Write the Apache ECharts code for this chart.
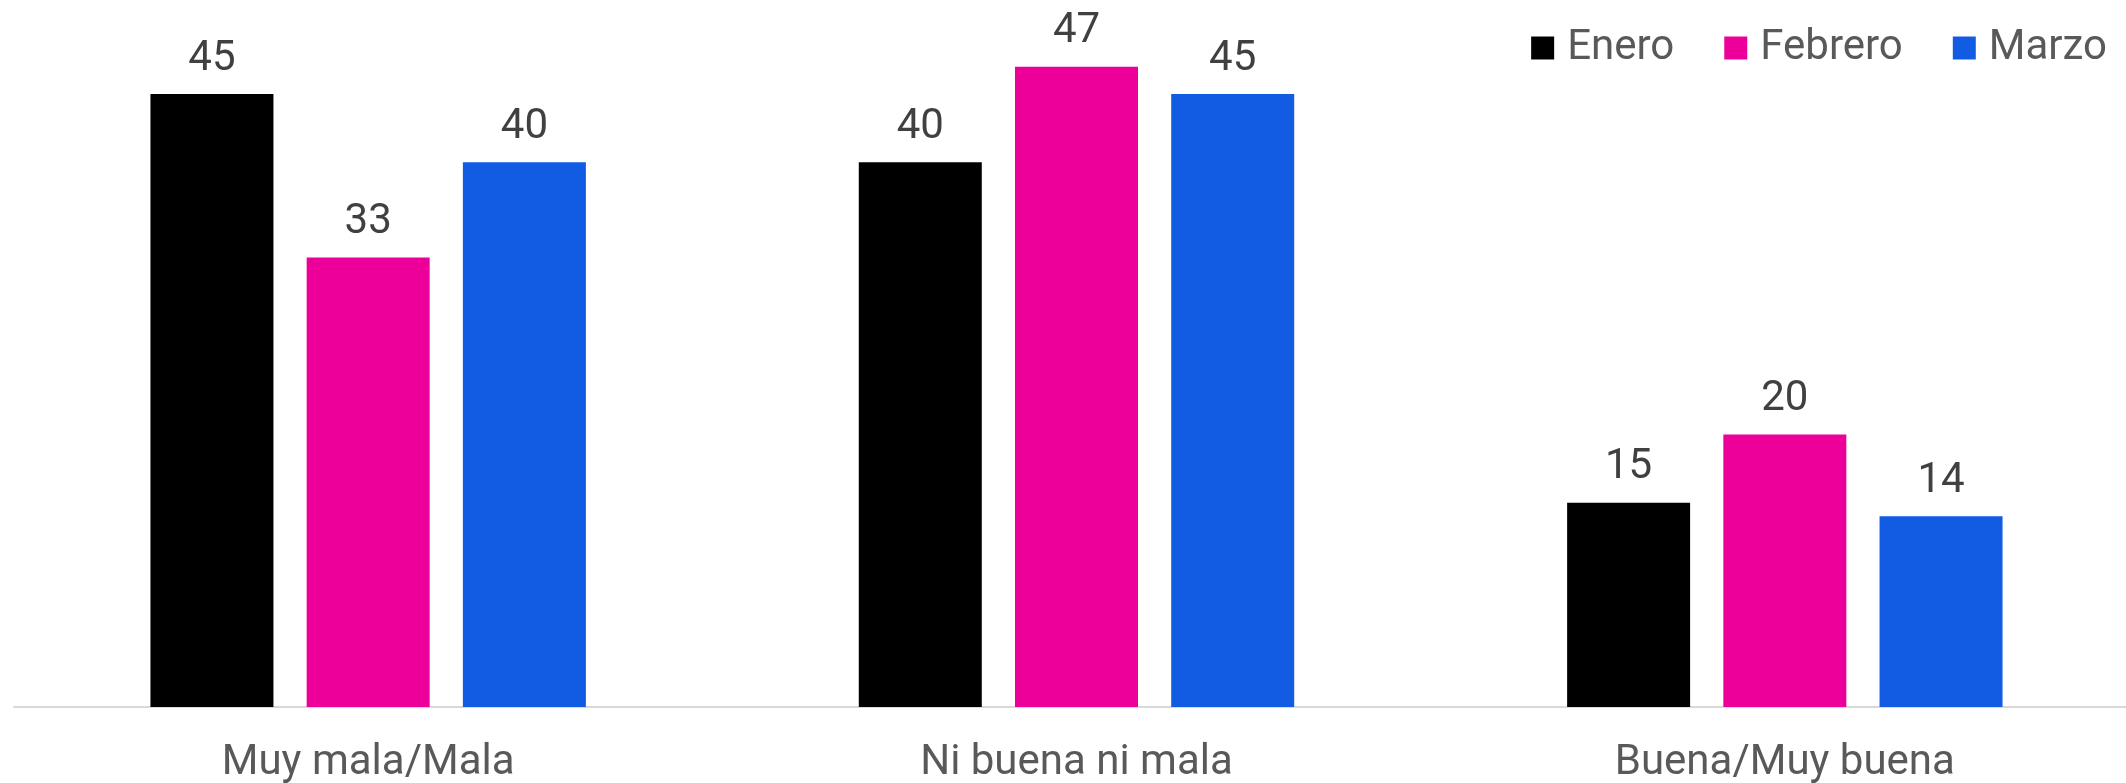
<!DOCTYPE html>
<html>
<head>
<meta charset="utf-8">
<script src="https://cdn.jsdelivr.net/npm/echarts@6/dist/echarts.min.js"></script>
<style>
  html, body { margin: 0; padding: 0; background: #ffffff; }
  #chart { width: 2126px; height: 783px; }
</style>
</head>
<body>
<div id="chart"></div>
<script>
// Opinion categories and monthly results
const categories = ['Muy mala/Mala', 'Ni buena ni mala', 'Buena/Muy buena'];
const seriesNames = ['Enero', 'Febrero', 'Marzo'];
const enero = [45, 40, 15];
const febrero = [33, 47, 20];
const marzo = [40, 45, 14];
const colors = ['#000000', '#EC0099', '#125CE3'];

const FONT = 'Roboto, "Noto Sans", sans-serif';

const valuesBySeries = [enero, febrero, marzo];

const chart = echarts.init(document.getElementById('chart'), null, { renderer: 'canvas' });

chart.setOption({
  backgroundColor: '#ffffff',
  animation: false,
  color: colors,
  textStyle: { fontFamily: FONT },
  legend: {
    data: seriesNames,
    right: 14,
    top: 22,
    icon: 'rect',
    itemWidth: 23,
    itemHeight: 23,
    itemGap: 50,
    textStyle: { fontSize: 42, color: '#595959', fontFamily: FONT, padding: [0, 0, 0, 8] }
  },
  grid: {
    left: 14,
    top: 26,
    width: 2125,
    height: 681,
    outerBoundsMode: 'none',
    containLabel: false
  },
  xAxis: {
    type: 'category',
    data: categories,
    axisLine: { show: true, lineStyle: { color: '#d9d9d9', width: 2 } },
    axisTick: { show: false },
    axisLabel: { fontSize: 42, color: '#595959', margin: 35, fontFamily: FONT }
  },
  yAxis: {
    type: 'value',
    min: 0,
    max: 50,
    show: false,
    splitLine: { show: false }
  },
  series: seriesNames.map((name, i) => ({
    name: name,
    type: 'bar',
    data: valuesBySeries[i],
    barWidth: 123,
    barGap: '27%',
    itemStyle: { color: colors[i] },
    label: {
      show: true,
      position: 'top',
      distance: 14,
      fontSize: 42,
      color: '#404040',
      fontFamily: FONT
    }
  }))
});
</script>
</body>
</html>
